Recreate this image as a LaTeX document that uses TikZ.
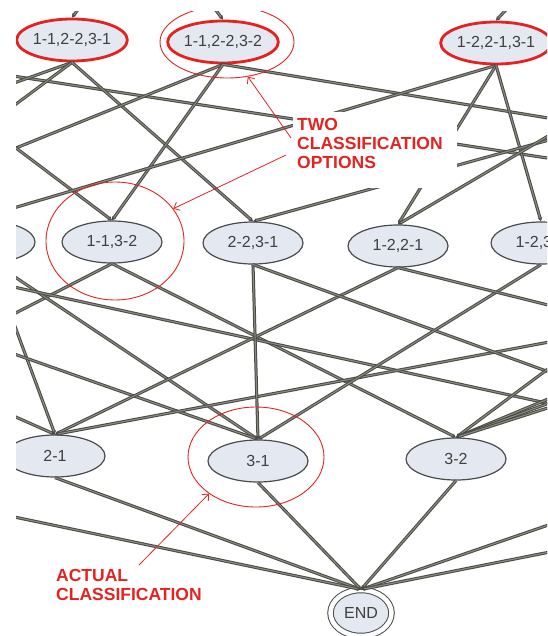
\documentclass[tikz,border=0pt]{standalone}
\usepackage{fontspec}
\setmainfont{Liberation Sans}
\usetikzlibrary{shapes.geometric, arrows.meta}

\definecolor{nodefill}{HTML}{E4E8F1}
\definecolor{nodeline}{HTML}{4B4B4B}
\definecolor{markred}{HTML}{E42320}
\definecolor{edgedark}{HTML}{4A4A44}
\definecolor{edgelight}{HTML}{8A8A82}

\begin{document}
\begin{tikzpicture}[
          x=1pt, y=-1pt,
          state/.style={ellipse, draw=nodeline, line width=1.2pt, fill=nodefill,
            minimum width=100pt, minimum height=42pt, inner sep=0pt,
            text=black!75, font=\fontsize{16}{16}\selectfont},
          chosen/.style={state, draw=markred, line width=2.8pt},
          link/.style={draw=edgedark, line width=1pt, double=edgelight,
            double distance=1.1pt, -{Stealth[length=4pt,width=4.5pt]}},
          ring/.style={ellipse, draw=markred, line width=0.9pt, inner sep=0pt},
          note/.style={text=markred, font=\bfseries\fontsize{17.5}{19}\selectfont, align=left},
          pointer/.style={draw=markred, line width=0.8pt, -{Straight Barb[length=5pt,width=9pt]}}
        ]
        \useasboundingbox (0,0) rectangle (547,636);
        \clip (16,12) rectangle (547,636);

        % rows of the lattice
        \node[chosen] (A) at (72,40) {1-1,2-2,3-1};
        \node[chosen] (B) at (223,42) {1-1,2-2,3-2};
        \node[chosen] (C) at (496,43) {1-2,2-1,3-1};

        \node[state] (L) at (-15,242) {};
        \node[state] (D) at (112,242) {1-1,3-2};
        \node[state] (E) at (253,243) {2-2,3-1};
        \node[state] (F) at (398,246) {1-2,2-1};
        \node[state] (G) at (541,243) {1-2,3-1};

        \node[state] (H) at (55,456) {2-1};
        \node[state] (I) at (258,461) {3-1};
        \node[state] (J) at (456,459) {3-2};

        \node[state, double=white, double distance=4.5pt, line width=1pt,
              minimum width=61pt, minimum height=46pt] (END) at (361,613) {END};

        % loose ends outside the view
        \coordinate (n1) at (85,0);
        \coordinate (n2) at (208,0);
        \coordinate (n3) at (515,0);
        \coordinate (w1) at (0,74);
        \coordinate (w2) at (0,88);
        \coordinate (w3) at (0,116);
        \coordinate (w4) at (16,148);
        \coordinate (w5) at (0,212);
        \coordinate (w6) at (0,267);
        \coordinate (w7) at (0,284);
        \coordinate (w8) at (0,286);
        \coordinate (w9) at (0,321);
        \coordinate (w10) at (0,349);
        \coordinate (w11) at (0,410);
        \coordinate (w12) at (0,514);
        \coordinate (e1) at (560,120);
        \coordinate (e2) at (560,129);
        \coordinate (e3) at (560,137);
        \coordinate (e4) at (560,160);
        \coordinate (e5) at (560,308);
        \coordinate (e6) at (560,340);
        \coordinate (e7) at (560,360);
        \coordinate (e8) at (560,376);
        \coordinate (e9) at (560,394);
        \coordinate (e10) at (560,399);
        \coordinate (e11) at (560,406);
        \coordinate (e12) at (560,404);
        \coordinate (e13) at (560,521);
        \coordinate (e14) at (560,550);

        % top band
        \draw[link] (n1) -- (A.north);
        \draw[link] (n2) -- (B.north);
        \draw[link] (n3) -- (C.north);
        \draw[link] (w1) -- (e4);
        \draw[link] (A.south) -- (w2);
        \draw[link] (A.south) -- (w3);
        \draw[link] (A.south) -- (E.north);
        \draw[link, arrows=-] (B.south) -- (w4);
        \draw[link] (w4) -- (D.north);
        \draw[link] (B.south) -- (D.north);
        \draw[link] (B.south) -- (e1);
        \draw[link] (C.south) -- (w5);
        \draw[link] (C.south) -- (F.north);
        \draw[link] (C.south) -- (G.north);
        \draw[link] (e3) -- (E.north);
        \draw[link] (e2) -- (F.north);

        % middle band
        \draw[link] (D.south) -- (w9);
        \draw[link] (D.south) -- (J.north);
        \draw[link] (w6) -- (I.north);
        \draw[link] (w7) -- (e11);
        \draw[link] (w8) -- (H.north);
        \draw[link] (w10) -- (I.north);
        \draw[link] (w11) -- (H.north);
        \draw[link] (F.south) -- (H.north);
        \draw[link] (e6) -- (H.north);
        \draw[link] (E.south) -- (I.north);
        \draw[link] (E.south) -- (e8);
        \draw[link] (G.south) -- (I.north);
        \draw[link] (F.south) -- (e5);
        \draw[link] (e7) -- (J.north);
        \draw[link] (e9) -- (J.north);
        \draw[link] (e10) -- (J.north);
        \draw[link] (e12) -- (J.north);

        % into END
        \draw[link] (H.south) -- (END.north);
        \draw[link] (w12) -- (END.north);
        \draw[link] (I.south) -- (END.north);
        \draw[link] (J.south) -- (END.north);
        \draw[link] (e13) -- (END.north);
        \draw[link] (e14) -- (END.north);

        % annotations
        \node[ring, minimum width=134pt, minimum height=72pt] (Bring) at (227,42) {};
        \node[ring, minimum width=138pt, minimum height=118pt] (Dring) at (115,241) {};
        \node[ring, minimum width=136pt, minimum height=100pt] (Iring) at (256,457) {};

        \node[note, fill=white, anchor=north west, inner xsep=4pt, inner ysep=6pt,
              text width=156pt] (twoopts) at (293,112)
              {TWO\\CLASSIFICATION\\OPTIONS\rule[-14pt]{0pt}{0pt}};
        \node[note, anchor=north west, inner sep=0pt] (actual) at (56,569)
              {ACTUAL\\CLASSIFICATION};

        \coordinate (p1) at (291,138);
        \coordinate (p2) at (286,155);
        \coordinate (p3) at (139,565);
        \draw[pointer] (p1) -- (Bring.-59);
        \draw[pointer] (p2) -- (Dring.29);
        \draw[pointer] (p3) -- (Iring.218);

\end{tikzpicture}
\end{document}
